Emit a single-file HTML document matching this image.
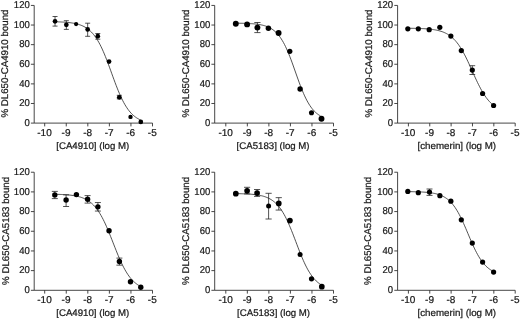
<!DOCTYPE html>
<html><head><meta charset="utf-8"><title>Figure</title>
<style>html,body{margin:0;padding:0;background:#fff}svg{display:block;filter:blur(0.4px)}</style>
</head><body>
<svg width="520" height="319" viewBox="0 0 520 319" font-family="'Liberation Sans', Arial, sans-serif" text-rendering="geometricPrecision" stroke-linejoin="round">
<rect width="520" height="319" fill="#fff"/>
<g><path d="M34.20 5.43V123.10H152.50" fill="none" stroke="#262626" stroke-width="0.85"/><path d="M30.90 123.10H34.20M30.90 103.49H34.20M30.90 83.88H34.20M30.90 64.26H34.20M30.90 44.65H34.20M30.90 25.04H34.20M30.90 5.43H34.20M44.70 123.10V126.40M66.26 123.10V126.40M87.82 123.10V126.40M109.38 123.10V126.40M130.94 123.10V126.40M152.50 123.10V126.40" fill="none" stroke="#262626" stroke-width="0.85"/><text transform="translate(29.70 125.80) scale(0.95 1)" font-size="10.0" text-anchor="end" fill="#1a1a1a" stroke="#1a1a1a" stroke-width="0.24">0</text><text transform="translate(29.70 106.19) scale(0.95 1)" font-size="10.0" text-anchor="end" fill="#1a1a1a" stroke="#1a1a1a" stroke-width="0.24">20</text><text transform="translate(29.70 86.58) scale(0.95 1)" font-size="10.0" text-anchor="end" fill="#1a1a1a" stroke="#1a1a1a" stroke-width="0.24">40</text><text transform="translate(29.70 66.96) scale(0.95 1)" font-size="10.0" text-anchor="end" fill="#1a1a1a" stroke="#1a1a1a" stroke-width="0.24">60</text><text transform="translate(29.70 47.35) scale(0.95 1)" font-size="10.0" text-anchor="end" fill="#1a1a1a" stroke="#1a1a1a" stroke-width="0.24">80</text><text transform="translate(29.70 27.74) scale(0.95 1)" font-size="10.0" text-anchor="end" fill="#1a1a1a" stroke="#1a1a1a" stroke-width="0.24">100</text><text transform="translate(29.70 8.13) scale(0.95 1)" font-size="10.0" text-anchor="end" fill="#1a1a1a" stroke="#1a1a1a" stroke-width="0.24">120</text><text transform="translate(44.50 135.80) scale(1.0 1)" font-size="10.0" text-anchor="middle" fill="#1a1a1a" stroke="#1a1a1a" stroke-width="0.24">-10</text><text transform="translate(66.06 135.80) scale(1.0 1)" font-size="10.0" text-anchor="middle" fill="#1a1a1a" stroke="#1a1a1a" stroke-width="0.24">-9</text><text transform="translate(87.62 135.80) scale(1.0 1)" font-size="10.0" text-anchor="middle" fill="#1a1a1a" stroke="#1a1a1a" stroke-width="0.24">-8</text><text transform="translate(109.18 135.80) scale(1.0 1)" font-size="10.0" text-anchor="middle" fill="#1a1a1a" stroke="#1a1a1a" stroke-width="0.24">-7</text><text transform="translate(130.74 135.80) scale(1.0 1)" font-size="10.0" text-anchor="middle" fill="#1a1a1a" stroke="#1a1a1a" stroke-width="0.24">-6</text><text transform="translate(152.30 135.80) scale(1.0 1)" font-size="10.0" text-anchor="middle" fill="#1a1a1a" stroke="#1a1a1a" stroke-width="0.24">-5</text><text x="92.75" y="149.15" font-size="9.66" text-anchor="middle" fill="#1a1a1a" stroke="#1a1a1a" stroke-width="0.24">[CA4910] (log M)</text><text transform="translate(7.80 63.56) rotate(-90)" font-size="9.72" text-anchor="middle" fill="#1a1a1a" stroke="#1a1a1a" stroke-width="0.24">% DL650-CA4910 bound</text><path d="M55.00 21.77L56.07 21.80L57.15 21.83L58.22 21.87L59.29 21.91L60.36 21.95L61.44 22.00L62.51 22.06L63.58 22.12L64.65 22.20L65.72 22.27L66.80 22.36L67.87 22.46L68.94 22.58L70.02 22.70L71.09 22.84L72.16 23.00L73.23 23.17L74.31 23.37L75.38 23.59L76.45 23.84L77.52 24.11L78.59 24.42L79.67 24.76L80.74 25.14L81.81 25.56L82.89 26.03L83.96 26.56L85.03 27.14L86.10 27.78L87.18 28.49L88.25 29.28L89.32 30.15L90.39 31.10L91.47 32.15L92.54 33.30L93.61 34.56L94.68 35.93L95.76 37.42L96.83 39.03L97.90 40.77L98.97 42.64L100.05 44.64L101.12 46.78L102.19 49.04L103.26 51.43L104.34 53.93L105.41 56.55L106.48 59.26L107.55 62.05L108.63 64.92L109.70 67.84L110.77 70.79L111.84 73.76L112.92 76.72L113.99 79.65L115.06 82.54L116.13 85.37L117.21 88.12L118.28 90.78L119.35 93.34L120.42 95.78L121.50 98.10L122.57 100.29L123.64 102.35L124.71 104.28L125.79 106.08L126.86 107.74L127.93 109.29L129.00 110.71L130.08 112.02L131.15 113.21L132.22 114.31L133.29 115.30L134.37 116.21L135.44 117.03L136.51 117.78L137.58 118.45L138.66 119.06L139.73 119.61L140.80 120.10" fill="none" stroke="#262626" stroke-width="0.8"/><path d="M55.04 16.50V26.10M52.54 16.50H57.54M52.54 26.10H57.54M66.33 20.70V29.40M63.83 20.70H68.83M63.83 29.40H68.83M87.66 23.20V36.30M85.16 23.20H90.16M85.16 36.30H90.16M97.80 33.50V39.20M95.30 33.50H100.30M95.30 39.20H100.30M119.30 95.30V98.90M116.80 95.30H121.80M116.80 98.90H121.80" fill="none" stroke="#262626" stroke-width="0.8"/><circle cx="55.04" cy="21.30" r="2.35" fill="#000"/><circle cx="66.33" cy="24.80" r="2.35" fill="#000"/><circle cx="76.10" cy="24.05" r="2.15" fill="#000"/><circle cx="87.66" cy="29.45" r="2.35" fill="#000"/><circle cx="97.80" cy="36.20" r="2.35" fill="#000"/><circle cx="109.05" cy="61.60" r="2.35" fill="#000"/><circle cx="119.30" cy="97.30" r="2.35" fill="#000"/><circle cx="130.50" cy="116.90" r="2.2" fill="#000"/><circle cx="140.80" cy="121.90" r="2.35" fill="#000"/></g>
<g><path d="M214.70 5.43V123.10H333.50" fill="none" stroke="#262626" stroke-width="0.85"/><path d="M211.40 123.10H214.70M211.40 103.49H214.70M211.40 83.88H214.70M211.40 64.26H214.70M211.40 44.65H214.70M211.40 25.04H214.70M211.40 5.43H214.70M225.80 123.10V126.40M247.34 123.10V126.40M268.88 123.10V126.40M290.42 123.10V126.40M311.96 123.10V126.40M333.50 123.10V126.40" fill="none" stroke="#262626" stroke-width="0.85"/><text transform="translate(210.20 125.80) scale(0.95 1)" font-size="10.0" text-anchor="end" fill="#1a1a1a" stroke="#1a1a1a" stroke-width="0.24">0</text><text transform="translate(210.20 106.19) scale(0.95 1)" font-size="10.0" text-anchor="end" fill="#1a1a1a" stroke="#1a1a1a" stroke-width="0.24">20</text><text transform="translate(210.20 86.58) scale(0.95 1)" font-size="10.0" text-anchor="end" fill="#1a1a1a" stroke="#1a1a1a" stroke-width="0.24">40</text><text transform="translate(210.20 66.96) scale(0.95 1)" font-size="10.0" text-anchor="end" fill="#1a1a1a" stroke="#1a1a1a" stroke-width="0.24">60</text><text transform="translate(210.20 47.35) scale(0.95 1)" font-size="10.0" text-anchor="end" fill="#1a1a1a" stroke="#1a1a1a" stroke-width="0.24">80</text><text transform="translate(210.20 27.74) scale(0.95 1)" font-size="10.0" text-anchor="end" fill="#1a1a1a" stroke="#1a1a1a" stroke-width="0.24">100</text><text transform="translate(210.20 8.13) scale(0.95 1)" font-size="10.0" text-anchor="end" fill="#1a1a1a" stroke="#1a1a1a" stroke-width="0.24">120</text><text transform="translate(225.60 135.80) scale(1.0 1)" font-size="10.0" text-anchor="middle" fill="#1a1a1a" stroke="#1a1a1a" stroke-width="0.24">-10</text><text transform="translate(247.14 135.80) scale(1.0 1)" font-size="10.0" text-anchor="middle" fill="#1a1a1a" stroke="#1a1a1a" stroke-width="0.24">-9</text><text transform="translate(268.68 135.80) scale(1.0 1)" font-size="10.0" text-anchor="middle" fill="#1a1a1a" stroke="#1a1a1a" stroke-width="0.24">-8</text><text transform="translate(290.22 135.80) scale(1.0 1)" font-size="10.0" text-anchor="middle" fill="#1a1a1a" stroke="#1a1a1a" stroke-width="0.24">-7</text><text transform="translate(311.76 135.80) scale(1.0 1)" font-size="10.0" text-anchor="middle" fill="#1a1a1a" stroke="#1a1a1a" stroke-width="0.24">-6</text><text transform="translate(333.30 135.80) scale(1.0 1)" font-size="10.0" text-anchor="middle" fill="#1a1a1a" stroke="#1a1a1a" stroke-width="0.24">-5</text><text x="273.10" y="149.15" font-size="9.66" text-anchor="middle" fill="#1a1a1a" stroke="#1a1a1a" stroke-width="0.24">[CA5183] (log M)</text><text transform="translate(189.20 63.56) rotate(-90)" font-size="9.72" text-anchor="middle" fill="#1a1a1a" stroke="#1a1a1a" stroke-width="0.24">% DL650-CA4910 bound</text><path d="M235.80 23.18L236.86 23.19L237.92 23.20L238.98 23.22L240.04 23.24L241.09 23.26L242.15 23.28L243.21 23.31L244.27 23.34L245.33 23.37L246.39 23.41L247.45 23.45L248.50 23.50L249.56 23.55L250.62 23.62L251.68 23.69L252.74 23.76L253.80 23.85L254.86 23.95L255.92 24.06L256.98 24.19L258.03 24.33L259.09 24.50L260.15 24.68L261.21 24.88L262.27 25.11L263.33 25.37L264.39 25.67L265.44 25.99L266.50 26.36L267.56 26.78L268.62 27.24L269.68 27.76L270.74 28.33L271.80 28.98L272.86 29.70L273.92 30.50L274.97 31.39L276.03 32.37L277.09 33.46L278.15 34.65L279.21 35.97L280.27 37.41L281.33 38.97L282.38 40.68L283.44 42.52L284.50 44.51L285.56 46.64L286.62 48.91L287.68 51.31L288.74 53.85L289.80 56.50L290.86 59.25L291.91 62.10L292.97 65.02L294.03 67.99L295.09 70.99L296.15 73.99L297.21 76.99L298.27 79.94L299.32 82.84L300.38 85.66L301.44 88.39L302.50 91.01L303.56 93.50L304.62 95.87L305.68 98.09L306.74 100.18L307.80 102.13L308.85 103.93L309.91 105.59L310.97 107.12L312.03 108.52L313.09 109.80L314.15 110.97L315.21 112.02L316.26 112.98L317.32 113.84L318.38 114.61L319.44 115.31L320.50 115.93" fill="none" stroke="#262626" stroke-width="0.8"/><path d="M257.40 22.50V32.60M254.30 22.50H260.50M254.30 32.60H260.50" fill="none" stroke="#262626" stroke-width="0.8"/><circle cx="235.80" cy="23.80" r="2.95" fill="#000"/><circle cx="247.10" cy="24.40" r="2.95" fill="#000"/><circle cx="257.40" cy="27.60" r="2.95" fill="#000"/><circle cx="268.40" cy="28.20" r="2.75" fill="#000"/><circle cx="278.60" cy="33.05" r="2.95" fill="#000"/><circle cx="289.80" cy="51.30" r="2.6" fill="#000"/><circle cx="300.10" cy="88.95" r="2.7" fill="#000"/><circle cx="311.50" cy="112.80" r="2.55" fill="#000"/><circle cx="321.50" cy="118.70" r="2.95" fill="#000"/></g>
<g><path d="M397.60 5.43V123.10H515.20" fill="none" stroke="#262626" stroke-width="0.85"/><path d="M394.30 123.10H397.60M394.30 103.49H397.60M394.30 83.88H397.60M394.30 64.26H397.60M394.30 44.65H397.60M394.30 25.04H397.60M394.30 5.43H397.60M408.40 123.10V126.40M429.76 123.10V126.40M451.12 123.10V126.40M472.48 123.10V126.40M493.84 123.10V126.40M515.20 123.10V126.40" fill="none" stroke="#262626" stroke-width="0.85"/><text transform="translate(393.10 125.80) scale(0.95 1)" font-size="10.0" text-anchor="end" fill="#1a1a1a" stroke="#1a1a1a" stroke-width="0.24">0</text><text transform="translate(393.10 106.19) scale(0.95 1)" font-size="10.0" text-anchor="end" fill="#1a1a1a" stroke="#1a1a1a" stroke-width="0.24">20</text><text transform="translate(393.10 86.58) scale(0.95 1)" font-size="10.0" text-anchor="end" fill="#1a1a1a" stroke="#1a1a1a" stroke-width="0.24">40</text><text transform="translate(393.10 66.96) scale(0.95 1)" font-size="10.0" text-anchor="end" fill="#1a1a1a" stroke="#1a1a1a" stroke-width="0.24">60</text><text transform="translate(393.10 47.35) scale(0.95 1)" font-size="10.0" text-anchor="end" fill="#1a1a1a" stroke="#1a1a1a" stroke-width="0.24">80</text><text transform="translate(393.10 27.74) scale(0.95 1)" font-size="10.0" text-anchor="end" fill="#1a1a1a" stroke="#1a1a1a" stroke-width="0.24">100</text><text transform="translate(393.10 8.13) scale(0.95 1)" font-size="10.0" text-anchor="end" fill="#1a1a1a" stroke="#1a1a1a" stroke-width="0.24">120</text><text transform="translate(408.20 135.80) scale(1.0 1)" font-size="10.0" text-anchor="middle" fill="#1a1a1a" stroke="#1a1a1a" stroke-width="0.24">-10</text><text transform="translate(429.56 135.80) scale(1.0 1)" font-size="10.0" text-anchor="middle" fill="#1a1a1a" stroke="#1a1a1a" stroke-width="0.24">-9</text><text transform="translate(450.92 135.80) scale(1.0 1)" font-size="10.0" text-anchor="middle" fill="#1a1a1a" stroke="#1a1a1a" stroke-width="0.24">-8</text><text transform="translate(472.28 135.80) scale(1.0 1)" font-size="10.0" text-anchor="middle" fill="#1a1a1a" stroke="#1a1a1a" stroke-width="0.24">-7</text><text transform="translate(493.64 135.80) scale(1.0 1)" font-size="10.0" text-anchor="middle" fill="#1a1a1a" stroke="#1a1a1a" stroke-width="0.24">-6</text><text transform="translate(515.00 135.80) scale(1.0 1)" font-size="10.0" text-anchor="middle" fill="#1a1a1a" stroke="#1a1a1a" stroke-width="0.24">-5</text><text x="456.80" y="149.15" font-size="9.78" text-anchor="middle" fill="#1a1a1a" stroke="#1a1a1a" stroke-width="0.24">[chemerin] (log M)</text><text transform="translate(371.60 63.56) rotate(-90)" font-size="9.72" text-anchor="middle" fill="#1a1a1a" stroke="#1a1a1a" stroke-width="0.24">% DL650-CA4910 bound</text><path d="M407.80 28.24L408.87 28.25L409.94 28.27L411.02 28.28L412.09 28.30L413.16 28.32L414.24 28.34L415.31 28.36L416.38 28.39L417.45 28.42L418.53 28.45L419.60 28.49L420.67 28.53L421.74 28.58L422.81 28.63L423.89 28.68L424.96 28.75L426.03 28.82L427.11 28.90L428.18 28.99L429.25 29.09L430.32 29.20L431.40 29.32L432.47 29.46L433.54 29.62L434.61 29.79L435.69 29.98L436.76 30.19L437.83 30.43L438.90 30.69L439.98 30.99L441.05 31.31L442.12 31.67L443.19 32.07L444.26 32.52L445.34 33.01L446.41 33.55L447.48 34.14L448.56 34.80L449.63 35.52L450.70 36.32L451.77 37.18L452.85 38.13L453.92 39.16L454.99 40.29L456.06 41.50L457.13 42.82L458.21 44.23L459.28 45.75L460.35 47.36L461.43 49.09L462.50 50.91L463.57 52.83L464.64 54.85L465.72 56.95L466.79 59.13L467.86 61.38L468.93 63.68L470.00 66.03L471.08 68.41L472.15 70.80L473.22 73.20L474.30 75.58L475.37 77.93L476.44 80.23L477.51 82.49L478.59 84.67L479.66 86.78L480.73 88.80L481.80 90.73L482.88 92.56L483.95 94.29L485.02 95.91L486.09 97.44L487.17 98.86L488.24 100.18L489.31 101.40L490.38 102.53L491.46 103.57L492.53 104.52L493.60 105.40" fill="none" stroke="#262626" stroke-width="0.8"/><path d="M472.30 65.70V74.50M469.40 65.70H475.20M469.40 74.50H475.20" fill="none" stroke="#262626" stroke-width="0.8"/><circle cx="407.80" cy="28.80" r="2.6" fill="#000"/><circle cx="418.30" cy="28.80" r="2.6" fill="#000"/><circle cx="429.20" cy="29.70" r="2.6" fill="#000"/><circle cx="439.80" cy="27.30" r="2.6" fill="#000"/><circle cx="450.85" cy="36.05" r="2.6" fill="#000"/><circle cx="461.30" cy="50.55" r="2.6" fill="#000"/><circle cx="472.30" cy="70.10" r="2.6" fill="#000"/><circle cx="482.60" cy="93.50" r="2.6" fill="#000"/><circle cx="493.60" cy="105.50" r="2.6" fill="#000"/></g>
<g><path d="M34.20 172.22V290.30H152.50" fill="none" stroke="#262626" stroke-width="0.85"/><path d="M30.90 290.30H34.20M30.90 270.62H34.20M30.90 250.94H34.20M30.90 231.26H34.20M30.90 211.58H34.20M30.90 191.90H34.20M30.90 172.22H34.20M44.70 290.30V293.60M66.26 290.30V293.60M87.82 290.30V293.60M109.38 290.30V293.60M130.94 290.30V293.60M152.50 290.30V293.60" fill="none" stroke="#262626" stroke-width="0.85"/><text transform="translate(29.70 292.90) scale(0.95 1)" font-size="10.0" text-anchor="end" fill="#1a1a1a" stroke="#1a1a1a" stroke-width="0.24">0</text><text transform="translate(29.70 273.22) scale(0.95 1)" font-size="10.0" text-anchor="end" fill="#1a1a1a" stroke="#1a1a1a" stroke-width="0.24">20</text><text transform="translate(29.70 253.54) scale(0.95 1)" font-size="10.0" text-anchor="end" fill="#1a1a1a" stroke="#1a1a1a" stroke-width="0.24">40</text><text transform="translate(29.70 233.86) scale(0.95 1)" font-size="10.0" text-anchor="end" fill="#1a1a1a" stroke="#1a1a1a" stroke-width="0.24">60</text><text transform="translate(29.70 214.18) scale(0.95 1)" font-size="10.0" text-anchor="end" fill="#1a1a1a" stroke="#1a1a1a" stroke-width="0.24">80</text><text transform="translate(29.70 194.50) scale(0.95 1)" font-size="10.0" text-anchor="end" fill="#1a1a1a" stroke="#1a1a1a" stroke-width="0.24">100</text><text transform="translate(29.70 174.82) scale(0.95 1)" font-size="10.0" text-anchor="end" fill="#1a1a1a" stroke="#1a1a1a" stroke-width="0.24">120</text><text transform="translate(44.50 303.00) scale(1.0 1)" font-size="10.0" text-anchor="middle" fill="#1a1a1a" stroke="#1a1a1a" stroke-width="0.24">-10</text><text transform="translate(66.06 303.00) scale(1.0 1)" font-size="10.0" text-anchor="middle" fill="#1a1a1a" stroke="#1a1a1a" stroke-width="0.24">-9</text><text transform="translate(87.62 303.00) scale(1.0 1)" font-size="10.0" text-anchor="middle" fill="#1a1a1a" stroke="#1a1a1a" stroke-width="0.24">-8</text><text transform="translate(109.18 303.00) scale(1.0 1)" font-size="10.0" text-anchor="middle" fill="#1a1a1a" stroke="#1a1a1a" stroke-width="0.24">-7</text><text transform="translate(130.74 303.00) scale(1.0 1)" font-size="10.0" text-anchor="middle" fill="#1a1a1a" stroke="#1a1a1a" stroke-width="0.24">-6</text><text transform="translate(152.30 303.00) scale(1.0 1)" font-size="10.0" text-anchor="middle" fill="#1a1a1a" stroke="#1a1a1a" stroke-width="0.24">-5</text><text x="92.75" y="316.35" font-size="9.66" text-anchor="middle" fill="#1a1a1a" stroke="#1a1a1a" stroke-width="0.24">[CA4910] (log M)</text><text transform="translate(8.50 230.86) rotate(-90)" font-size="9.72" text-anchor="middle" fill="#1a1a1a" stroke="#1a1a1a" stroke-width="0.24">% DL650-CA5183 bound</text><path d="M54.80 194.28L55.88 194.30L56.95 194.33L58.02 194.36L59.10 194.40L60.17 194.44L61.25 194.48L62.32 194.53L63.40 194.59L64.47 194.65L65.55 194.72L66.62 194.80L67.70 194.89L68.78 194.98L69.85 195.09L70.92 195.21L72.00 195.35L73.08 195.50L74.15 195.67L75.22 195.86L76.30 196.07L77.38 196.30L78.45 196.56L79.53 196.85L80.60 197.17L81.68 197.53L82.75 197.93L83.83 198.37L84.90 198.86L85.97 199.40L87.05 200.00L88.12 200.66L89.20 201.39L90.28 202.19L91.35 203.07L92.43 204.03L93.50 205.09L94.58 206.24L95.65 207.50L96.72 208.86L97.80 210.33L98.88 211.92L99.95 213.63L101.03 215.45L102.10 217.40L103.18 219.46L104.25 221.64L105.33 223.92L106.40 226.31L107.48 228.79L108.55 231.36L109.62 233.99L110.70 236.68L111.78 239.40L112.85 242.15L113.93 244.90L115.00 247.64L116.08 250.35L117.15 253.01L118.23 255.61L119.30 258.13L120.38 260.57L121.45 262.90L122.53 265.14L123.60 267.25L124.68 269.26L125.75 271.14L126.83 272.91L127.90 274.55L128.98 276.08L130.05 277.50L131.12 278.81L132.20 280.01L133.28 281.11L134.35 282.12L135.43 283.05L136.50 283.89L137.57 284.65L138.65 285.35L139.73 285.97L140.80 286.54" fill="none" stroke="#262626" stroke-width="0.8"/><path d="M54.80 191.40V198.60M51.80 191.40H57.80M51.80 198.60H57.80M66.10 194.80V206.50M63.10 194.80H69.10M63.10 206.50H69.10M87.60 195.60V203.10M84.60 195.60H90.60M84.60 203.10H90.60M97.90 202.55V211.05M94.90 202.55H100.90M94.90 211.05H100.90M119.40 258.10V265.15M116.40 258.10H122.40M116.40 265.15H122.40" fill="none" stroke="#262626" stroke-width="0.8"/><circle cx="54.80" cy="194.90" r="2.7" fill="#000"/><circle cx="66.10" cy="200.00" r="2.7" fill="#000"/><circle cx="76.40" cy="194.60" r="2.7" fill="#000"/><circle cx="87.60" cy="199.30" r="2.7" fill="#000"/><circle cx="97.90" cy="206.85" r="2.7" fill="#000"/><circle cx="109.05" cy="230.70" r="2.7" fill="#000"/><circle cx="119.40" cy="261.50" r="2.7" fill="#000"/><circle cx="130.50" cy="281.70" r="2.7" fill="#000"/><circle cx="140.80" cy="287.20" r="2.7" fill="#000"/></g>
<g><path d="M214.70 172.22V290.30H333.50" fill="none" stroke="#262626" stroke-width="0.85"/><path d="M211.40 290.30H214.70M211.40 270.62H214.70M211.40 250.94H214.70M211.40 231.26H214.70M211.40 211.58H214.70M211.40 191.90H214.70M211.40 172.22H214.70M225.80 290.30V293.60M247.34 290.30V293.60M268.88 290.30V293.60M290.42 290.30V293.60M311.96 290.30V293.60M333.50 290.30V293.60" fill="none" stroke="#262626" stroke-width="0.85"/><text transform="translate(210.20 292.90) scale(0.95 1)" font-size="10.0" text-anchor="end" fill="#1a1a1a" stroke="#1a1a1a" stroke-width="0.24">0</text><text transform="translate(210.20 273.22) scale(0.95 1)" font-size="10.0" text-anchor="end" fill="#1a1a1a" stroke="#1a1a1a" stroke-width="0.24">20</text><text transform="translate(210.20 253.54) scale(0.95 1)" font-size="10.0" text-anchor="end" fill="#1a1a1a" stroke="#1a1a1a" stroke-width="0.24">40</text><text transform="translate(210.20 233.86) scale(0.95 1)" font-size="10.0" text-anchor="end" fill="#1a1a1a" stroke="#1a1a1a" stroke-width="0.24">60</text><text transform="translate(210.20 214.18) scale(0.95 1)" font-size="10.0" text-anchor="end" fill="#1a1a1a" stroke="#1a1a1a" stroke-width="0.24">80</text><text transform="translate(210.20 194.50) scale(0.95 1)" font-size="10.0" text-anchor="end" fill="#1a1a1a" stroke="#1a1a1a" stroke-width="0.24">100</text><text transform="translate(210.20 174.82) scale(0.95 1)" font-size="10.0" text-anchor="end" fill="#1a1a1a" stroke="#1a1a1a" stroke-width="0.24">120</text><text transform="translate(225.60 303.00) scale(1.0 1)" font-size="10.0" text-anchor="middle" fill="#1a1a1a" stroke="#1a1a1a" stroke-width="0.24">-10</text><text transform="translate(247.14 303.00) scale(1.0 1)" font-size="10.0" text-anchor="middle" fill="#1a1a1a" stroke="#1a1a1a" stroke-width="0.24">-9</text><text transform="translate(268.68 303.00) scale(1.0 1)" font-size="10.0" text-anchor="middle" fill="#1a1a1a" stroke="#1a1a1a" stroke-width="0.24">-8</text><text transform="translate(290.22 303.00) scale(1.0 1)" font-size="10.0" text-anchor="middle" fill="#1a1a1a" stroke="#1a1a1a" stroke-width="0.24">-7</text><text transform="translate(311.76 303.00) scale(1.0 1)" font-size="10.0" text-anchor="middle" fill="#1a1a1a" stroke="#1a1a1a" stroke-width="0.24">-6</text><text transform="translate(333.30 303.00) scale(1.0 1)" font-size="10.0" text-anchor="middle" fill="#1a1a1a" stroke="#1a1a1a" stroke-width="0.24">-5</text><text x="273.60" y="316.35" font-size="9.66" text-anchor="middle" fill="#1a1a1a" stroke="#1a1a1a" stroke-width="0.24">[CA5183] (log M)</text><text transform="translate(189.20 230.86) rotate(-90)" font-size="9.72" text-anchor="middle" fill="#1a1a1a" stroke="#1a1a1a" stroke-width="0.24">% DL650-CA5183 bound</text><path d="M235.80 193.63L236.87 193.65L237.94 193.67L239.01 193.69L240.09 193.71L241.16 193.74L242.23 193.77L243.30 193.81L244.37 193.84L245.44 193.89L246.51 193.94L247.58 193.99L248.66 194.05L249.73 194.12L250.80 194.20L251.87 194.29L252.94 194.39L254.01 194.50L255.08 194.62L256.15 194.76L257.23 194.91L258.30 195.09L259.37 195.28L260.44 195.50L261.51 195.74L262.58 196.01L263.65 196.31L264.72 196.65L265.80 197.02L266.87 197.44L267.94 197.91L269.01 198.43L270.08 199.00L271.15 199.64L272.22 200.34L273.29 201.12L274.37 201.98L275.44 202.92L276.51 203.96L277.58 205.10L278.65 206.34L279.72 207.69L280.79 209.16L281.86 210.75L282.94 212.46L284.01 214.30L285.08 216.26L286.15 218.35L287.22 220.56L288.29 222.89L289.36 225.33L290.43 227.87L291.50 230.49L292.58 233.19L293.65 235.95L294.72 238.74L295.79 241.56L296.86 244.39L297.93 247.20L299.00 249.97L300.07 252.69L301.15 255.35L302.22 257.92L303.29 260.39L304.36 262.77L305.43 265.02L306.50 267.16L307.57 269.17L308.64 271.06L309.72 272.82L310.79 274.45L311.86 275.97L312.93 277.36L314.00 278.65L315.07 279.82L316.14 280.90L317.22 281.88L318.29 282.77L319.36 283.58L320.43 284.31L321.50 284.97" fill="none" stroke="#262626" stroke-width="0.8"/><path d="M247.10 187.30V193.90M244.00 187.30H250.20M244.00 193.90H250.20M257.10 189.50V196.40M254.00 189.50H260.20M254.00 196.40H260.20M268.60 193.30V219.00M265.50 193.30H271.70M265.50 219.00H271.70M278.75 197.65V210.05M275.65 197.65H281.85M275.65 210.05H281.85" fill="none" stroke="#262626" stroke-width="0.8"/><circle cx="235.80" cy="193.70" r="2.85" fill="#000"/><circle cx="247.10" cy="190.80" r="2.85" fill="#000"/><circle cx="257.10" cy="193.10" r="2.85" fill="#000"/><circle cx="268.60" cy="206.00" r="2.5" fill="#000"/><circle cx="278.75" cy="203.40" r="2.85" fill="#000"/><circle cx="289.90" cy="220.60" r="2.85" fill="#000"/><circle cx="300.10" cy="254.50" r="2.5" fill="#000"/><circle cx="311.50" cy="278.80" r="2.6" fill="#000"/><circle cx="321.80" cy="286.70" r="2.85" fill="#000"/></g>
<g><path d="M397.60 172.22V290.30H515.20" fill="none" stroke="#262626" stroke-width="0.85"/><path d="M394.30 290.30H397.60M394.30 270.62H397.60M394.30 250.94H397.60M394.30 231.26H397.60M394.30 211.58H397.60M394.30 191.90H397.60M394.30 172.22H397.60M408.40 290.30V293.60M429.76 290.30V293.60M451.12 290.30V293.60M472.48 290.30V293.60M493.84 290.30V293.60M515.20 290.30V293.60" fill="none" stroke="#262626" stroke-width="0.85"/><text transform="translate(393.10 292.90) scale(0.95 1)" font-size="10.0" text-anchor="end" fill="#1a1a1a" stroke="#1a1a1a" stroke-width="0.24">0</text><text transform="translate(393.10 273.22) scale(0.95 1)" font-size="10.0" text-anchor="end" fill="#1a1a1a" stroke="#1a1a1a" stroke-width="0.24">20</text><text transform="translate(393.10 253.54) scale(0.95 1)" font-size="10.0" text-anchor="end" fill="#1a1a1a" stroke="#1a1a1a" stroke-width="0.24">40</text><text transform="translate(393.10 233.86) scale(0.95 1)" font-size="10.0" text-anchor="end" fill="#1a1a1a" stroke="#1a1a1a" stroke-width="0.24">60</text><text transform="translate(393.10 214.18) scale(0.95 1)" font-size="10.0" text-anchor="end" fill="#1a1a1a" stroke="#1a1a1a" stroke-width="0.24">80</text><text transform="translate(393.10 194.50) scale(0.95 1)" font-size="10.0" text-anchor="end" fill="#1a1a1a" stroke="#1a1a1a" stroke-width="0.24">100</text><text transform="translate(393.10 174.82) scale(0.95 1)" font-size="10.0" text-anchor="end" fill="#1a1a1a" stroke="#1a1a1a" stroke-width="0.24">120</text><text transform="translate(408.20 303.00) scale(1.0 1)" font-size="10.0" text-anchor="middle" fill="#1a1a1a" stroke="#1a1a1a" stroke-width="0.24">-10</text><text transform="translate(429.56 303.00) scale(1.0 1)" font-size="10.0" text-anchor="middle" fill="#1a1a1a" stroke="#1a1a1a" stroke-width="0.24">-9</text><text transform="translate(450.92 303.00) scale(1.0 1)" font-size="10.0" text-anchor="middle" fill="#1a1a1a" stroke="#1a1a1a" stroke-width="0.24">-8</text><text transform="translate(472.28 303.00) scale(1.0 1)" font-size="10.0" text-anchor="middle" fill="#1a1a1a" stroke="#1a1a1a" stroke-width="0.24">-7</text><text transform="translate(493.64 303.00) scale(1.0 1)" font-size="10.0" text-anchor="middle" fill="#1a1a1a" stroke="#1a1a1a" stroke-width="0.24">-6</text><text transform="translate(515.00 303.00) scale(1.0 1)" font-size="10.0" text-anchor="middle" fill="#1a1a1a" stroke="#1a1a1a" stroke-width="0.24">-5</text><text x="456.80" y="316.35" font-size="9.78" text-anchor="middle" fill="#1a1a1a" stroke="#1a1a1a" stroke-width="0.24">[chemerin] (log M)</text><text transform="translate(371.20 230.86) rotate(-90)" font-size="9.72" text-anchor="middle" fill="#1a1a1a" stroke="#1a1a1a" stroke-width="0.24">% DL650-CA5183 bound</text><path d="M407.80 191.64L408.87 191.65L409.94 191.66L411.02 191.68L412.09 191.70L413.16 191.72L414.24 191.74L415.31 191.76L416.38 191.79L417.45 191.82L418.53 191.86L419.60 191.90L420.67 191.95L421.74 192.00L422.81 192.06L423.89 192.12L424.96 192.20L426.03 192.28L427.11 192.38L428.18 192.48L429.25 192.60L430.32 192.74L431.40 192.89L432.47 193.06L433.54 193.25L434.61 193.46L435.69 193.71L436.76 193.97L437.83 194.28L438.90 194.62L439.98 194.99L441.05 195.42L442.12 195.89L443.19 196.41L444.26 197.00L445.34 197.65L446.41 198.37L447.48 199.16L448.56 200.04L449.63 201.01L450.70 202.07L451.77 203.24L452.85 204.51L453.92 205.89L454.99 207.38L456.06 208.99L457.13 210.72L458.21 212.57L459.28 214.53L460.35 216.60L461.43 218.78L462.50 221.05L463.57 223.41L464.64 225.84L465.72 228.32L466.79 230.84L467.86 233.38L468.93 235.93L470.00 238.46L471.08 240.96L472.15 243.40L473.22 245.78L474.30 248.08L475.37 250.29L476.44 252.39L477.51 254.39L478.59 256.27L479.66 258.03L480.73 259.68L481.80 261.21L482.88 262.63L483.95 263.93L485.02 265.12L486.09 266.22L487.17 267.21L488.24 268.12L489.31 268.94L490.38 269.68L491.46 270.35L492.53 270.95L493.60 271.50" fill="none" stroke="#262626" stroke-width="0.8"/><path d="M429.50 189.00V195.40M426.50 189.00H432.50M426.50 195.40H432.50" fill="none" stroke="#262626" stroke-width="0.8"/><circle cx="407.80" cy="191.40" r="2.6" fill="#000"/><circle cx="418.30" cy="192.70" r="2.6" fill="#000"/><circle cx="429.50" cy="192.10" r="2.6" fill="#000"/><circle cx="439.90" cy="195.70" r="2.6" fill="#000"/><circle cx="450.85" cy="201.15" r="2.6" fill="#000"/><circle cx="461.30" cy="219.80" r="2.6" fill="#000"/><circle cx="472.30" cy="243.10" r="2.6" fill="#000"/><circle cx="482.60" cy="262.05" r="2.6" fill="#000"/><circle cx="493.60" cy="272.10" r="2.6" fill="#000"/></g>
</svg>
</body></html>
